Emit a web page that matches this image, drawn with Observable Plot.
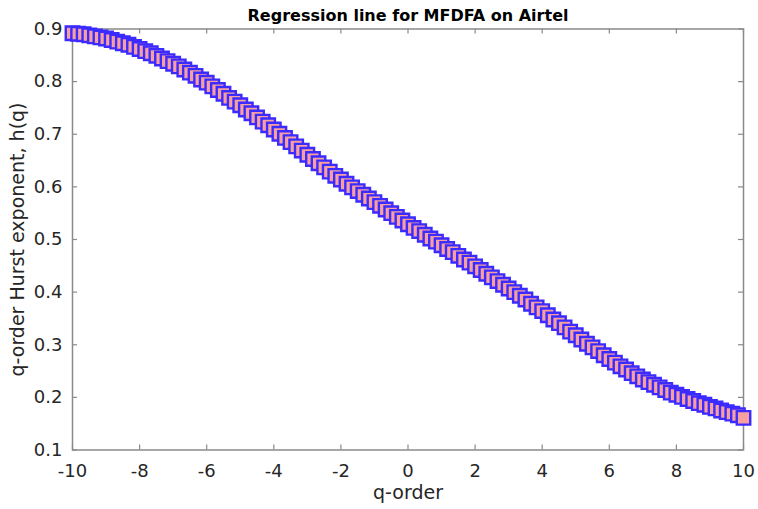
<!DOCTYPE html>
<html>
<head>
<meta charset="utf-8">
<script src="https://cdn.jsdelivr.net/npm/d3@7"></script>
<script src="https://cdn.jsdelivr.net/npm/@observablehq/plot@0.6"></script>
<style>
  html, body { margin: 0; padding: 0; background: #ffffff; }
  #chart { width: 758px; height: 509px; }
</style>
</head>
<body>
<div id="chart"></div>
<script>
// q-orders of the MFDFA estimate
const qOrder = [
  -10, -9.833, -9.667, -9.5, -9.333, -9.167,
  -9, -8.833, -8.667, -8.5, -8.333, -8.167,
  -8, -7.833, -7.667, -7.5, -7.333, -7.167,
  -7, -6.833, -6.667, -6.5, -6.333, -6.167,
  -6, -5.833, -5.667, -5.5, -5.333, -5.167,
  -5, -4.833, -4.667, -4.5, -4.333, -4.167,
  -4, -3.833, -3.667, -3.5, -3.333, -3.167,
  -3, -2.833, -2.667, -2.5, -2.333, -2.167,
  -2, -1.833, -1.667, -1.5, -1.333, -1.167,
  -1, -0.833, -0.667, -0.5, -0.333, -0.167,
  0, 0.167, 0.333, 0.5, 0.667, 0.833,
  1, 1.167, 1.333, 1.5, 1.667, 1.833,
  2, 2.167, 2.333, 2.5, 2.667, 2.833,
  3, 3.167, 3.333, 3.5, 3.667, 3.833,
  4, 4.167, 4.333, 4.5, 4.667, 4.833,
  5, 5.167, 5.333, 5.5, 5.667, 5.833,
  6, 6.167, 6.333, 6.5, 6.667, 6.833,
  7, 7.167, 7.333, 7.5, 7.667, 7.833,
  8, 8.167, 8.333, 8.5, 8.667, 8.833,
  9, 9.167, 9.333, 9.5, 9.667, 9.833,
  10
];

// generalized Hurst exponent h(q) for each q-order
const hurst = [
  0.892, 0.891, 0.890, 0.888, 0.886, 0.884,
  0.882, 0.879, 0.876, 0.873, 0.870, 0.866,
  0.862, 0.858, 0.854, 0.849, 0.844, 0.839,
  0.834, 0.829, 0.823, 0.817, 0.811, 0.804,
  0.798, 0.791, 0.784, 0.777, 0.769, 0.762,
  0.755, 0.747, 0.740, 0.732, 0.724, 0.717,
  0.709, 0.701, 0.693, 0.685, 0.677, 0.669,
  0.661, 0.653, 0.645, 0.637, 0.629, 0.621,
  0.614, 0.606, 0.599, 0.592, 0.585, 0.578,
  0.571, 0.564, 0.557, 0.550, 0.543, 0.536,
  0.529, 0.522, 0.516, 0.509, 0.502, 0.496,
  0.489, 0.482, 0.476, 0.469, 0.462, 0.456,
  0.449, 0.442, 0.435, 0.428, 0.421, 0.414,
  0.407, 0.400, 0.393, 0.386, 0.378, 0.371,
  0.364, 0.356, 0.348, 0.341, 0.333, 0.325,
  0.318, 0.310, 0.302, 0.295, 0.288, 0.280,
  0.273, 0.266, 0.259, 0.253, 0.246, 0.240,
  0.234, 0.229, 0.224, 0.219, 0.214, 0.209,
  0.205, 0.201, 0.197, 0.193, 0.189, 0.186,
  0.182, 0.179, 0.175, 0.172, 0.169, 0.166,
  0.161
];

const xTicks = [-10, -8, -6, -4, -2, 0, 2, 4, 6, 8, 10];
const yTicks = [0.1, 0.2, 0.3, 0.4, 0.5, 0.6, 0.7, 0.8, 0.9];

const titleText = "Regression line for MFDFA on Airtel";
const xLabel = "q-order";
const yLabel = "q-order Hurst exponent, h(q)";

const points = qOrder.map((q, i) => ({q, h: hurst[i]}));

const W = 758, H = 509;
const mL = 72, mR = 15, mT = 28.5, mB = 59.5;
const frameW = W - mL - mR, frameH = H - mT - mB;
const axisGray = "#8a8a8a";
const textGray = "#262626";
const tick = 5;

const chart = Plot.plot({
  width: W,
  height: H,
  marginLeft: mL,
  marginRight: mR,
  marginTop: mT,
  marginBottom: mB,
  style: {fontFamily: "'DejaVu Sans', sans-serif", background: "#ffffff", overflow: "visible"},
  x: {domain: [-10, 10]},
  y: {domain: [0.1, 0.9]},
  marks: [
    // box around the axes
    Plot.frame({stroke: axisGray, strokeWidth: 1.5}),
    // inward tick marks on all four sides
    Plot.ruleX(xTicks, {x: d => d, stroke: axisGray, strokeWidth: 1.2, insetTop: frameH - tick}),
    Plot.ruleX(xTicks, {x: d => d, stroke: axisGray, strokeWidth: 1.2, insetBottom: frameH - tick}),
    Plot.ruleY(yTicks, {y: d => d, stroke: axisGray, strokeWidth: 1.2, insetRight: frameW - tick}),
    Plot.ruleY(yTicks, {y: d => d, stroke: axisGray, strokeWidth: 1.2, insetLeft: frameW - tick}),
    // tick labels
    Plot.axisX(xTicks, {tickSize: 0, tickPadding: 14.5, fontSize: 18, fill: textGray, label: null, tickFormat: d => String(d)}),
    Plot.axisY(yTicks, {tickSize: 0, tickPadding: 10, fontSize: 18, fill: textGray, label: null, tickFormat: d => d.toFixed(1)}),
    // h(q) estimates as square markers
    Plot.dot(points, {x: "q", y: "h", symbol: "square", r: 7.6, fill: "#f8a0a0", stroke: "#3b2bff", strokeWidth: 2.4}),
    // titles
    Plot.text([titleText], {frameAnchor: "top", dy: -13, lineAnchor: "middle", textAnchor: "middle", fontSize: 16, fontWeight: "bold", fill: "#000000"}),
    Plot.text([xLabel], {frameAnchor: "bottom", dy: 43, lineAnchor: "middle", textAnchor: "middle", fontSize: 19, fill: textGray}),
    Plot.text([yLabel], {frameAnchor: "left", dx: -54.5, rotate: -90, lineAnchor: "middle", textAnchor: "middle", fontSize: 19, fill: textGray})
  ]
});

document.getElementById("chart").appendChild(chart);
</script>
</body>
</html>
